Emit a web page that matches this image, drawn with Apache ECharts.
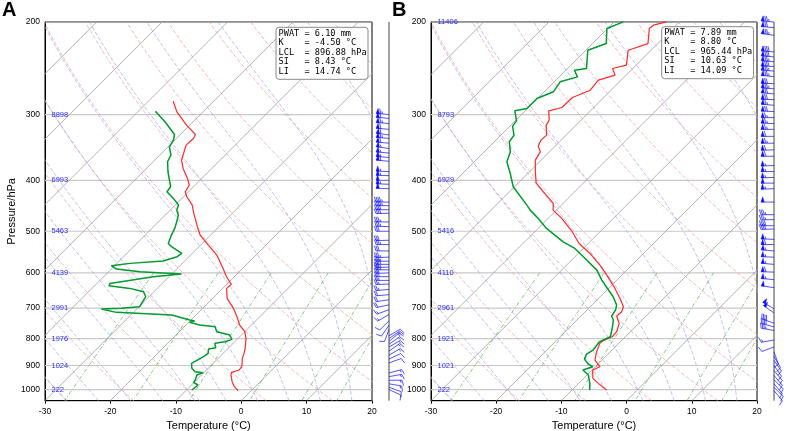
<!DOCTYPE html>
<html><head><meta charset="utf-8">
<script src="https://cdn.jsdelivr.net/npm/echarts@6/dist/echarts.min.js"></script>
<style>html,body{margin:0;padding:0;background:#fff}#c{width:789px;height:431px}</style>
</head><body><div id="c"></div>
<script>
// ---------------- DATA ----------------
const pressureTicks = [200, 300, 400, 500, 600, 700, 800, 900, 1000];
const tempTicksMin = -30, tempTicksMax = 20, tempTickStep = 10;
const P_TOP = 200, P_BOT = 1050;

// Panel A: temperature profile
const pA_T = [282.9,296.4,314.2,327.3,333.0,342.9,353.0,366.2,379.7,396.7,408.5,420.6,429.9,445.8,462.4,472.7,490.2,508.4,527.3,554.9,588.3,610.1,630.9,642.1,670.8,700.8,726.8,753.8,776.1,799.1,834.9,853.4,872.2,904.6,917.9,927.3,938.2,966.0,987.3,1004.8];
const tA = [-56.2,-54.0,-50.5,-47.7,-47.4,-47.5,-46.8,-45.9,-44.4,-42.2,-40.9,-40.5,-39.5,-37.4,-35.9,-34.9,-33.3,-31.6,-29.3,-26.0,-23.0,-21.2,-19.3,-19.4,-17.8,-15.3,-13.5,-11.8,-10.0,-8.8,-7.4,-6.8,-6.3,-5.1,-5.0,-5.8,-5.5,-4.3,-3.2,-2.0];
// Panel A: dewpoint profile
const pA_D = [295.5,309.6,327.3,335.5,345.4,358.2,368.8,385.3,402.6,411.5,420.6,433.0,445.8,455.7,465.8,476.1,493.8,508.4,527.3,535.0,550.9,559.0,569.7,575.5,581.4,590.0,596.9,603.0,610.1,628.2,634.6,642.1,651.5,665.9,695.7,700.8,702.8,713.2,721.5,737.5,740.8,745.1,753.8,759.4,776.1,787.5,802.6,810.9,816.8,832.5,837.3,853.4,865.9,891.5,911.2,924.6,928.7,938.2,959.0,968.8,980.2,1001.9];
const tdA = [-57.4,-54.3,-50.9,-50.2,-49.8,-48.3,-47.8,-46.2,-44.4,-43.5,-43.3,-41.3,-39.5,-39.0,-38.0,-37.4,-36.5,-36.0,-35.2,-34.2,-31.6,-31.8,-33.3,-38.0,-40.5,-39.2,-35.2,-28.5,-32.4,-38.0,-37.8,-34.2,-31.6,-30.5,-29.9,-32.4,-35.4,-32.6,-23.7,-20.2,-19.3,-19.9,-17.9,-15.3,-14.3,-11.8,-10.8,-11.5,-12.8,-12.0,-12.9,-12.3,-12.5,-13.3,-12.5,-11.5,-10.1,-10.7,-10.2,-10.1,-9.0,-9.2];
// Panel A: geopotential heights
const hgtLevA = [300,400,500,600,700,800,900,1000];
const hgtA = ['8898','6993','5463','4139','2991','1976','1024','222'];
// Panel A: winds (pressure, speed kt, direction deg)
const wPA = [300,305,312,320,328,333,340,348,355,362,368,385,392,400,407,415,440,447,455,462,480,490,500,520,530,545,560,570,578,585,592,600,610,620,630,645,660,675,690,705,720,740,755,768,790,800,810,820,830,845,860,875,890,930,945,960,975,990,1000];
const wSA = [65,60,65,60,60,65,60,55,55,55,60,55,55,50,55,50,45,45,40,40,35,35,30,30,35,30,35,35,40,35,35,30,30,25,25,25,20,20,20,15,15,10,10,10,10,15,15,15,15,15,15,10,10,15,15,15,15,10,10];
const wDA = [275,275,275,275,278,275,275,278,275,275,275,272,272,270,272,272,270,270,270,268,270,272,270,268,270,270,268,270,270,268,270,268,270,270,268,265,265,262,258,250,240,225,215,200,60,55,50,55,60,55,60,65,70,75,80,90,100,110,115];
const statsA = ['PWAT = 6.10 mm','K    = -4.50 °C','LCL  = 896.88 hPa','SI   = 8.43 °C','LI   = 14.74 °C'];

// Panel B: temperature profile
const pB_T = [199.9,202.8,205.8,219.8,226.3,241.6,245.2,252.4,258.0,269.6,278.4,290.8,295.1,307.4,314.2,328.2,335.5,344.4,353.1,366.2,385.4,404.4,420.6,442.6,455.8,472.7,498.9,527.4,551.0,579.8,605.8,642.2,670.9,695.8,711.2,724.8,748.5,776.3,793.5,807.5,816.9,847.3,878.8,904.8,918.1,952.2,973.3,1002.0];
const tB = [-52.0,-53.5,-53.6,-51.5,-53.5,-51.5,-53.1,-51.7,-53.5,-53.2,-54.8,-54.9,-56.4,-54.9,-54.6,-53.0,-53.1,-52.6,-51.4,-50.9,-49.1,-47.3,-44.8,-41.5,-40.5,-37.9,-34.5,-31.4,-28.2,-24.9,-22.3,-19.0,-16.7,-14.9,-14.4,-14.5,-13.0,-12.1,-12.0,-12.8,-12.9,-12.1,-11.1,-9.3,-9.9,-8.6,-7.0,-4.7];
// Panel B: dewpoint profile
const pB_D = [199.9,205.8,219.8,226.3,245.2,247.0,254.3,259.9,271.5,279.6,292.1,295.1,308.3,315.5,328.2,337.9,353.1,368.9,388.2,411.5,445.9,455.8,472.7,493.9,523.6,539.1,559.1,592.7,619.2,637.5,666.1,690.8,706.0,724.8,737.6,759.5,793.5,811.1,841.1,856.0,876.2,894.3,904.8,918.1,924.8,938.4,973.3,1002.0];
const tdB = [-58.6,-60.1,-57.9,-59.7,-57.1,-58.7,-57.2,-59.1,-58.6,-60.1,-60.1,-61.6,-59.8,-59.6,-58.0,-57.7,-56.0,-55.0,-52.7,-50.2,-45.3,-44.0,-41.5,-38.7,-34.1,-31.3,-28.7,-24.6,-22.3,-20.6,-18.0,-16.2,-15.6,-15.3,-14.4,-13.5,-12.3,-13.2,-12.9,-13.3,-12.8,-11.5,-10.4,-11.4,-11.2,-9.8,-8.3,-7.3];
const hgtLevB = [200,300,400,500,600,700,800,900,1000];
const hgtB = ['11406','8793','6929','5416','4110','2961','1921','1021','222'];
const wPB = [200,205,212,228,233,238,243,248,254,262,268,274,281,288,296,304,312,320,330,340,350,360,375,385,395,405,415,440,465,475,488,495,518,530,545,560,578,598,618,640,702,715,748,760,772,805,830,848,865,880,900,920,940,958,975,990,1005];
const wSB = [75,70,75,80,80,75,80,75,75,70,75,70,70,65,70,65,65,65,60,65,60,60,55,55,55,50,55,50,35,35,40,40,55,60,55,55,55,60,55,50,50,50,40,40,35,15,10,10,10,10,10,10,10,10,10,10,10];
const wDB = [275,275,278,275,275,275,272,275,275,272,275,275,272,275,272,270,272,270,270,270,268,270,268,270,268,270,268,270,270,268,270,268,272,270,275,272,275,272,275,278,300,305,290,285,280,260,250,160,150,145,145,140,140,135,140,135,140];
const statsB = ['PWAT = 7.89 mm','K    = 8.80 °C','LCL  = 965.44 hPa','SI   = 10.63 °C','LI   = 14.09 °C'];

// background line parameters (diagram grid)
const isothermList = [-80,-70,-60,-50,-40,-30,-20,-10,0,10,20];
const dryThetaList = [-30,-20,-10,0,10,20,30,40,50,60,70,80,90,100,110,120,130,140,150,160,170,180,190,200];
const moistT0List = [-40,-35,-30,-25,-20,-15,-10,-5,0,5,10,15,20,25,30,35,40];
const mixRatioList = [0.0004,0.001,0.002,0.004,0.007,0.01,0.016,0.024,0.032];

// ---------------- LAYOUT ----------------
const GT = 22, GH = 378.7;
const panels = [
  {left:45, W:327, bLeft:372, tP:pA_T, tT:tA, dP:pA_D, dT:tdA, hL:hgtLevA, hV:hgtA, wP:wPA, wS:wSA, wD:wDA, stats:statsA, box:[276,27.3,92,52], letter:'A', lx:2, yName:true},
  {left:431, W:326, bLeft:757, tP:pB_T, tT:tB, dP:pB_D, dT:tdB, hL:hgtLevB, hV:hgtB, wP:wPB, wS:wSB, wD:wDB, stats:statsB, box:[661.7,26.7,91.8,52], letter:'B', lx:392, yName:false}
];
const FONT = '"Liberation Sans", Arial, sans-serif';
const L = Math.log;

// physics helpers for diagram lines
const RD=287.04749, CPD=1004.6662, LV=2.50084e6, EPS=0.6219569;
function esat(Tk){return 6.112*Math.exp(17.67*(Tk-273.15)/(Tk-29.65));}
function dTdp(p,T){const es=esat(T);const rs=EPS*es/(p-es);return (1/p)*(RD*T+LV*rs)/(CPD+LV*LV*rs*EPS/(RD*T*T));}
function moist(t0){
  const up=[],dn=[];let T=t0+273.15,p=1000,h=-5;
  up.push([p,T]);
  while(p>P_TOP){const k1=dTdp(p,T),k2=dTdp(p+h/2,T+h/2*k1),k3=dTdp(p+h/2,T+h/2*k2),k4=dTdp(p+h,T+h*k3);T+=h/6*(k1+2*k2+2*k3+k4);p+=h;up.push([p,T]);}
  T=t0+273.15;p=1000;h=5;
  while(p<P_BOT){const k1=dTdp(p,T),k2=dTdp(p+h/2,T+h/2*k1),k3=dTdp(p+h/2,T+h/2*k2),k4=dTdp(p+h,T+h*k3);T+=h/6*(k1+2*k2+2*k3+k4);p+=h;dn.unshift([p,T]);}
  return dn.concat(up).map(a=>[a[0],a[1]-273.15]);
}

const grids=[],xAxes=[],yAxes=[],series=[],graphic=[];
panels.forEach((pn,i)=>{
  const gm=2*i, gb=2*i+1;
  const K=(GH/L(P_BOT/P_TOP))/(pn.W/(tempTicksMax-tempTicksMin));
  const sx=(T,p)=>T+K*(L(P_BOT)-L(p));
  grids.push({left:pn.left,top:GT,width:pn.W,height:GH,show:true,borderColor:'#000',borderWidth:1,backgroundColor:'transparent',containLabel:false,outerBoundsMode:'none'});
  grids.push({left:pn.bLeft,top:GT,width:34,height:GH,containLabel:false,outerBoundsMode:'none'});
  xAxes.push({gridIndex:gm,type:'value',min:tempTicksMin,max:tempTicksMax,interval:tempTickStep,
    axisLine:{show:true,onZero:false,lineStyle:{color:'#000',width:1}},axisTick:{show:true,length:3,lineStyle:{color:'#000'}},
    axisLabel:{fontSize:8.5,color:'#000',margin:6,fontFamily:FONT},splitLine:{show:false},
    name:'Temperature (°C)',nameLocation:'middle',nameGap:17,nameTextStyle:{fontSize:11,color:'#000',fontFamily:FONT}});
  xAxes.push({gridIndex:gb,type:'value',min:-1,max:1,show:false});
  yAxes.push({gridIndex:gm,type:'value',min:L(P_TOP),max:L(P_BOT),inverse:true,
    axisLine:{show:true,onZero:false,lineStyle:{color:'#000',width:1}},axisTick:{show:false},splitLine:{show:false},
    axisLabel:{show:true,customValues:pressureTicks.map(p=>L(p)),formatter:v=>String(Math.round(Math.exp(v))),fontSize:8.5,color:'#000',margin:5,fontFamily:FONT},
    name:pn.yName?'Pressure/hPa':'',nameLocation:'middle',nameGap:27,nameTextStyle:{fontSize:11,color:'#000',fontFamily:FONT}});
  yAxes.push({gridIndex:gb,type:'value',min:L(P_TOP),max:L(P_BOT),inverse:true,show:false});

  const base={type:'line',xAxisIndex:gm,yAxisIndex:gm,symbol:'none',silent:true,animation:false,clip:true};
  // isobars
  pressureTicks.forEach(p=>series.push(Object.assign({},base,{data:[[tempTicksMin,L(p)],[tempTicksMax,L(p)]],lineStyle:{color:'#c9c9c9',width:1.2},z:1})));
  // isotherms
  isothermList.forEach(t=>series.push(Object.assign({},base,{data:[[sx(t,P_BOT),L(P_BOT)],[sx(t,P_TOP),L(P_TOP)]],lineStyle:{color:'#a8a8a8',width:0.9},z:2})));
  // dry adiabats
  const pl=[];for(let p=P_BOT;p>=P_TOP;p-=10)pl.push(p);
  dryThetaList.forEach(th=>series.push(Object.assign({},base,{data:pl.map(p=>{const T=(th+273.15)*Math.pow(p/1000,RD/CPD)-273.15;return [sx(T,p),L(p)];}),lineStyle:{color:'#f39a9a',width:0.7,type:[4,2]},z:3})));
  // moist adiabats
  moistT0List.forEach(t0=>series.push(Object.assign({},base,{data:moist(t0).filter((a,k)=>k%2===0||a[0]===P_TOP).map(a=>[sx(a[1],a[0]),L(a[0])]),lineStyle:{color:'#a3a3f3',width:0.7,type:[4,2]},z:3})));
  // mixing ratio lines
  const pm=[];for(let p=600;p<=P_BOT;p+=25)pm.push(p);
  mixRatioList.forEach(w=>series.push(Object.assign({},base,{data:pm.map(p=>{const e=w*p/(EPS+w);const a=L(e/6.112);const Td=243.5*a/(17.67-a);return [sx(Td,p),L(p)];}),lineStyle:{color:'#55b055',width:0.7,type:[4,2,1,2]},z:3})));
  // profiles
  series.push(Object.assign({},base,{clip:false,data:pn.tP.map((p,k)=>[sx(pn.tT[k],p),L(p)]),lineStyle:{color:'#ff2a2a',width:1.2},z:10}));
  series.push(Object.assign({},base,{clip:false,data:pn.dP.map((p,k)=>[sx(pn.dT[k],p),L(p)]),lineStyle:{color:'#009a2e',width:1.5},z:11}));
  // heights
  series.push({type:'custom',xAxisIndex:gm,yAxisIndex:gm,silent:true,animation:false,z:12,
    data:pn.hL.map(p=>[tempTicksMin,L(p)]),encode:{x:0,y:1},
    renderItem:(params,api)=>{const c=api.coord([api.value(0),api.value(1)]);
      return {type:'text',x:c[0]+6.5,y:c[1],style:{text:pn.hV[params.dataIndex],fill:'#2b2bff',font:'7.5px '+FONT,verticalAlign:'middle',align:'left'}};}});
  // barb axis line
  series.push({type:'line',xAxisIndex:gb,yAxisIndex:gb,symbol:'none',silent:true,animation:false,data:[[0,L(P_TOP)],[0,L(P_BOT)]],lineStyle:{color:'#444',width:1},z:5});
  // wind barbs
  series.push({type:'custom',xAxisIndex:gb,yAxisIndex:gb,silent:true,animation:false,z:6,
    data:pn.wP.map((p,k)=>[0,L(p),pn.wS[k],pn.wD[k]]),encode:{x:0,y:1},
    renderItem:(params,api)=>{
      const o=api.coord([api.value(0),api.value(1)]);
      const spd=api.value(2),dir=api.value(3)*Math.PI/180;
      const ux=Math.sin(dir),uy=-Math.cos(dir),nx=-uy,ny=ux;
      const Lb=13,fh=0.4*Lb,fw=0.25*Lb,sp=0.125*Lb;
      const P=(d,n)=>[o[0]+ux*d+nx*n,o[1]+uy*d+ny*n];
      const col='#0a0aff';const ch=[];
      const tip=P(Lb,0);
      ch.push({type:'line',shape:{x1:o[0],y1:o[1],x2:tip[0],y2:tip[1]},style:{stroke:col,lineWidth:0.7}});
      let s=Math.round(spd/5)*5;const nf=Math.floor(s/50);s-=nf*50;const nb=Math.floor(s/10);const hb=(s%10)>=5;
      let pos=Lb;
      for(let f=0;f<nf;f++){if(pos!==Lb)pos-=sp/2;ch.push({type:'polygon',shape:{points:[P(pos,0),P(pos-fw/2,fh),P(pos-fw,0)]},style:{fill:col,stroke:col,lineWidth:0.4}});pos-=fw+sp;}
      for(let b=0;b<nb;b++){const a=P(pos,0),c=P(pos+fw/2,fh);ch.push({type:'line',shape:{x1:a[0],y1:a[1],x2:c[0],y2:c[1]},style:{stroke:col,lineWidth:0.7}});pos-=sp;}
      if(hb){if(pos===Lb)pos-=1.5*sp;const a=P(pos,0),c=P(pos+fw/4,fh/2);ch.push({type:'line',shape:{x1:a[0],y1:a[1],x2:c[0],y2:c[1]},style:{stroke:col,lineWidth:0.7}});}
      return {type:'group',children:ch};
    }});
  // stats box & panel letter
  const b=pn.box;
  graphic.push({type:'rect',shape:{x:b[0],y:b[1],width:b[2],height:b[3],r:3},style:{fill:'rgba(255,255,255,0.9)',stroke:'#8a8a8a',lineWidth:1},z:100});
  graphic.push({type:'text',x:b[0]+2.6,y:b[1]+1.3,style:{text:pn.stats.join('\n'),font:'8.6px "DejaVu Sans Mono", monospace',lineHeight:9.5,fill:'#000',verticalAlign:'top'},z:101});
  graphic.push({type:'text',x:pn.lx,y:0.5,style:{text:pn.letter,font:'bold 20px '+FONT,fill:'#000',verticalAlign:'top'},z:101});
});

const chart=echarts.init(document.getElementById('c'),null,{renderer:'canvas'});
chart.setOption({animation:false,backgroundColor:'#fff',grid:grids,xAxis:xAxes,yAxis:yAxes,series:series,graphic:graphic});
</script></body></html>
